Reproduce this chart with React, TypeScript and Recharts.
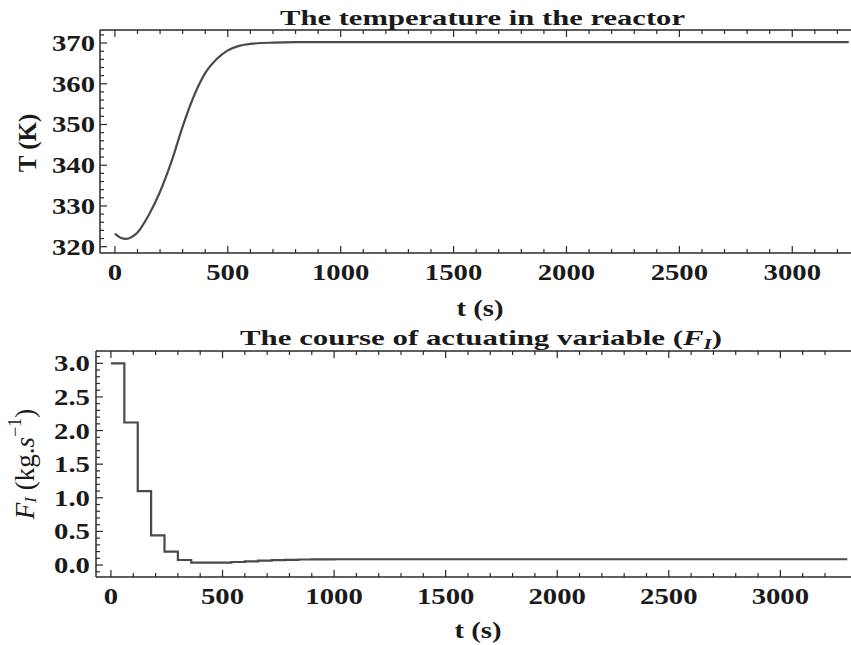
import React from "react";
import { LineChart, Line, XAxis, YAxis, Label } from "recharts";

// reactor temperature
const tempTime = [0, 25, 50, 75, 100, 150, 200, 250, 300, 350, 400, 450, 500, 550, 600, 700, 800, 1000, 1500, 2000, 2500, 3000, 3250];
const tempValue = [323.2, 322.2, 321.9, 322.4, 323.5, 327.8, 333.5, 340.8, 349.5, 357.0, 362.6, 366.0, 368.2, 369.3, 369.8, 370.1, 370.2, 370.2, 370.2, 370.2, 370.2, 370.2, 370.2];

// actuating variable F_I (held piecewise constant)
const flowTime = [0, 60, 120, 180, 240, 300, 360, 420, 480, 540, 600, 660, 720, 780, 840, 900, 1000, 1500, 2000, 2500, 3000, 3300];
const flowValue = [3.0, 2.12, 1.1, 0.44, 0.2, 0.075, 0.035, 0.035, 0.035, 0.045, 0.055, 0.065, 0.072, 0.078, 0.082, 0.085, 0.086, 0.086, 0.086, 0.086, 0.086, 0.086];

const timeMajorTicks = [0, 500, 1000, 1500, 2000, 2500, 3000];
const timeMinorTicks = [100, 200, 300, 400, 600, 700, 800, 900, 1100, 1200, 1300, 1400, 1600, 1700, 1800, 1900, 2100, 2200, 2300, 2400, 2600, 2700, 2800, 2900, 3100, 3200];
const tempMajorTicks = [320, 330, 340, 350, 360, 370];
const tempMinorTicks = [322, 324, 326, 328, 332, 334, 336, 338, 342, 344, 346, 348, 352, 354, 356, 358, 362, 364, 366, 368, 372];
const flowMajorTicks = [0, 0.5, 1, 1.5, 2, 2.5, 3];
const flowMinorTicks = [-0.1, 0.1, 0.2, 0.3, 0.4, 0.6, 0.7, 0.8, 0.9, 1.1, 1.2, 1.3, 1.4, 1.6, 1.7, 1.8, 1.9, 2.1, 2.2, 2.3, 2.4, 2.6, 2.7, 2.8, 2.9, 3.1];

const tempData = tempTime.map((t, i) => ({ t, T: tempValue[i] }));
const flowData = flowTime.map((t, i) => ({ t, F: flowValue[i] }));

const FONT = "'Liberation Serif', 'Times New Roman', serif";
const INK = "#1a1a1a";
const AXIS = { stroke: "#2a2a2a", strokeWidth: 1.5 };

const isIn = (list: number[], v: number) => list.some((m) => Math.abs(m - v) < 1e-6);

function makeTick(side: string, majors: number[], fmt?: (v: number) => string, dx = 5) {
  return (p: any) => {
    const v = p.payload.value;
    const major = isIn(majors, v);
    const len = major ? 7 : 4;
    const { x, y } = p;
    let line;
    if (side === "bottom") line = <line x1={x} y1={y} x2={x} y2={y - len} stroke="#2a2a2a" strokeWidth={1.2} />;
    else if (side === "top") line = <line x1={x} y1={y} x2={x} y2={y + len} stroke="#2a2a2a" strokeWidth={1.2} />;
    else line = <line x1={x} y1={y} x2={x + len} y2={y} stroke="#2a2a2a" strokeWidth={1.2} />;
    let label = null;
    if (major && fmt) {
      if (side === "bottom") {
        label = (
          <text transform={`translate(${x},${y + 27}) scale(1.25,1)`} textAnchor="middle"
            fontFamily={FONT} fontWeight="bold" fontSize={23} fill={INK}>{fmt(v)}</text>
        );
      } else if (side === "left") {
        label = (
          <text transform={`translate(${x - dx},${y + 8}) scale(1.25,1)`} textAnchor="end"
            fontFamily={FONT} fontWeight="bold" fontSize={23} fill={INK}>{fmt(v)}</text>
        );
      }
    }
    return <g>{line}{label}</g>;
  };
}

const titleStyle = { fontFamily: FONT, fontWeight: "bold" as const, fill: INK };

export default function App() {
  return (
    <div style={{ position: "absolute", left: 0, top: 0, width: 851, height: 645, overflow: "hidden", background: "#fff" }}>
      <div style={{ position: "absolute", left: 0, top: 0 }}>
        <LineChart width={860} height={330} data={tempData} margin={{ top: 29, right: 0, bottom: 17, left: 40 }}>
          <XAxis dataKey="t" type="number" domain={[-66, 3300]} allowDataOverflow ticks={[...timeMajorTicks, ...timeMinorTicks]}
            interval={0} height={60} tickSize={0} tickMargin={0} tickLine={false} axisLine={AXIS}
            tick={makeTick("bottom", timeMajorTicks, (v) => String(v))}>
            <Label content={() => (
              <text transform="translate(480,316) scale(1.25,1)" textAnchor="middle" fontSize={23} {...titleStyle}>t (s)</text>
            )} />
          </XAxis>
          <XAxis xAxisId="top" orientation="top" dataKey="t" type="number" domain={[-66, 3300]} allowDataOverflow
            ticks={[...timeMajorTicks, ...timeMinorTicks]} interval={0} height={1} tickSize={0} tickMargin={0}
            tickLine={false} axisLine={AXIS} tick={makeTick("top", timeMajorTicks)}>
            <Label content={() => (
              <text x={280} y={25} fontSize={22} textLength={405} lengthAdjust="spacingAndGlyphs" {...titleStyle}>
                The  temperature in  the  reactor
              </text>
            )} />
          </XAxis>
          <YAxis type="number" domain={[318.45, 373.2]} allowDataOverflow ticks={[...tempMajorTicks, ...tempMinorTicks]}
            interval={0} width={60} tickSize={0} tickMargin={0} tickLine={false} axisLine={AXIS}
            tick={makeTick("left", tempMajorTicks, (v) => String(v), 5)}>
            <Label content={() => (
              <text x={27} y={143} transform="rotate(-90, 27, 143)" textAnchor="middle" dominantBaseline="central"
                fontSize={25} {...titleStyle}>T (K)</text>
            )} />
          </YAxis>
          <Line type="monotone" dataKey="T" stroke="#4a4a4a" strokeWidth={2.2} dot={false} isAnimationActive={false} />
        </LineChart>
      </div>

      <div style={{ position: "absolute", left: 0, top: 0 }}>
        <LineChart width={854} height={645} data={flowData} margin={{ top: 350, right: 0, bottom: 8, left: 36 }}>
          <XAxis dataKey="t" type="number" domain={[-67, 3330]} allowDataOverflow ticks={[...timeMajorTicks, ...timeMinorTicks]}
            interval={0} height={60} tickSize={0} tickMargin={0} tickLine={false} axisLine={AXIS}
            tick={makeTick("bottom", timeMajorTicks, (v) => String(v))}>
            <Label content={() => (
              <text transform="translate(478,638) scale(1.25,1)" textAnchor="middle" fontSize={23} {...titleStyle}>t (s)</text>
            )} />
          </XAxis>
          <XAxis xAxisId="top" orientation="top" dataKey="t" type="number" domain={[-67, 3330]} allowDataOverflow
            ticks={[...timeMajorTicks, ...timeMinorTicks]} interval={0} height={1} tickSize={0} tickMargin={0}
            tickLine={false} axisLine={AXIS} tick={makeTick("top", timeMajorTicks)}>
            <Label content={() => (
              <text x={240} y={345} fontSize={22} textLength={482} lengthAdjust="spacingAndGlyphs" {...titleStyle}>
                The  course  of  actuating variable  (<tspan fontStyle="italic">F</tspan>
                <tspan fontStyle="italic" fontSize={15} dy={4}>I</tspan><tspan dy={-4}>)</tspan>
              </text>
            )} />
          </XAxis>
          <YAxis type="number" domain={[-0.178, 3.183]} allowDataOverflow ticks={[...flowMajorTicks, ...flowMinorTicks]}
            interval={0} width={60} tickSize={0} tickMargin={0} tickLine={false} axisLine={AXIS}
            tick={makeTick("left", flowMajorTicks, (v) => v.toFixed(1), 6)}>
            <Label content={() => (
              <text x={25} y={464} transform="rotate(-90, 25, 464)" textAnchor="middle" dominantBaseline="central"
                fontFamily={FONT} fill={INK} fontSize={27}>
                <tspan fontStyle="italic">F</tspan>
                <tspan fontStyle="italic" fontSize={17} dy={5}>I</tspan>
                <tspan dy={-5}> (kg.</tspan><tspan fontStyle="italic">s</tspan>
                <tspan fontSize={18} dy={-10}>−1</tspan><tspan dy={10}>)</tspan>
              </text>
            )} />
          </YAxis>
          <Line type="stepAfter" dataKey="F" stroke="#4a4a4a" strokeWidth={2.2} dot={false} isAnimationActive={false} />
        </LineChart>
      </div>
    </div>
  );
}
